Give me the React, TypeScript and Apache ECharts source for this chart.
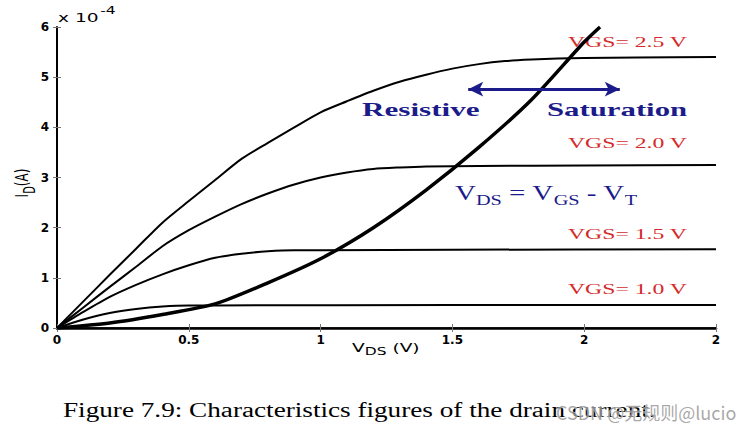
import React, { useEffect, useRef } from 'react';
import * as echarts from 'echarts';

// Drain current curves, I_D in units of 1e-4 A, V_DS in volts
const vgs25: number[][] = [[0,0],[0.1,0.53],[0.2,1.06],[0.3,1.58],[0.4,2.1],[0.5,2.53],[0.6,2.95],[0.7,3.37],[0.8,3.69],[0.9,4.0],[1.0,4.3],[1.1,4.52],[1.2,4.73],[1.3,4.91],[1.4,5.05],[1.5,5.17],[1.6,5.26],[1.7,5.32],[1.8,5.35],[1.9,5.37],[2.0,5.38],[2.2,5.39],[2.5,5.4]];
const vgs20: number[][] = [[0,0],[0.1,0.41],[0.2,0.82],[0.3,1.22],[0.4,1.63],[0.5,1.95],[0.6,2.22],[0.7,2.47],[0.8,2.68],[0.9,2.86],[1.0,3.0],[1.1,3.1],[1.2,3.17],[1.3,3.2],[1.4,3.22],[1.6,3.23],[2.0,3.24],[2.5,3.25]];
const vgs15: number[][] = [[0,0],[0.1,0.32],[0.2,0.62],[0.3,0.86],[0.4,1.07],[0.5,1.25],[0.6,1.4],[0.7,1.48],[0.8,1.53],[0.9,1.55],[1.0,1.55],[1.5,1.56],[2.5,1.57]];
const vgs10: number[][] = [[0,0],[0.1,0.17],[0.2,0.3],[0.3,0.38],[0.4,0.43],[0.5,0.45],[0.6,0.45],[1.5,0.46],[2.5,0.46]];
const boundary: number[][] = [[0,0],[0.2,0.1],[0.4,0.27],[0.6,0.48],[0.8,0.9],[1.0,1.38],[1.2,2.0],[1.4,2.75],[1.6,3.6],[1.8,4.55],[2.0,5.7],[2.06,6.0]];
const arrowLeft = [1.56, 4.76];
const arrowRight = [2.135, 4.76];
const vgsLabels = ['VGS= 2.5 V', 'VGS= 2.0 V', 'VGS= 1.5 V', 'VGS= 1.0 V'];
const xMin = 0, xMax = 2.5, xStep = 0.5;
const yMin = 0, yMax = 6, yStep = 1;

const RED = '#d42a2a';
const NAVY = '#1b1b8a';
const SANS = 'DejaVu Sans';
const SERIF = 'Liberation Serif';

export default function App() {
  const ref = useRef<HTMLDivElement>(null);
  useEffect(() => {
    const chart = echarts.init(ref.current!, null, { renderer: 'svg' });
    const curve = (data: number[][], width: number) => ({
      type: 'line', data, smooth: 0.25, symbol: 'none', silent: true,
      lineStyle: { color: '#000', width },
    });
    const vgsY = [42, 143, 234, 289];
    chart.setOption({
      animation: false,
      backgroundColor: '#fff',
      grid: { left: 57, right: 40, top: 27, bottom: 103, containLabel: false },
      xAxis: [
        {
          type: 'value', min: xMin, max: xMax, interval: xStep, position: 'bottom',
          axisLine: { show: true, lineStyle: { color: '#000', width: 2.5 } },
          axisTick: { show: true, inside: true, length: 4, lineStyle: { color: '#777', width: 1 } },
          axisLabel: { color: '#000', fontFamily: SANS, fontSize: 12, fontWeight: 'bold', margin: 6,
            formatter: (v: number) => (v === 2.5 ? '2' : String(v)) },
          splitLine: { show: false },
        },
        {
          type: 'value', min: xMin, max: xMax, interval: xStep, position: 'top',
          axisLine: { show: true, lineStyle: { color: '#000', width: 1.5 } },
          axisTick: { show: true, inside: true, length: 4, lineStyle: { color: '#777', width: 1 } },
          axisLabel: { show: false }, splitLine: { show: false },
        },
      ],
      yAxis: [
        {
          type: 'value', min: yMin, max: yMax, interval: yStep, position: 'left',
          axisLine: { show: true, lineStyle: { color: '#000', width: 2 } },
          axisTick: { show: true, inside: true, length: 4, lineStyle: { color: '#777', width: 1 } },
          axisLabel: { color: '#000', fontFamily: SANS, fontSize: 12, fontWeight: 'bold', margin: 8 },
          splitLine: { show: false },
        },
        {
          type: 'value', min: yMin, max: yMax, interval: yStep, position: 'right',
          axisLine: { show: false },
          axisTick: { show: true, inside: true, length: 4, lineStyle: { color: '#777', width: 1 } },
          axisLabel: { show: false }, splitLine: { show: false },
        },
      ],
      series: [
        curve(vgs25, 2),
        curve(vgs20, 2),
        curve(vgs15, 2),
        curve(vgs10, 2),
        {
          ...curve(boundary, 3.5),
          markLine: {
            silent: true, symbol: ['arrow', 'arrow'], symbolSize: [11, 15],
            lineStyle: { color: NAVY, width: 3, type: 'solid' },
            label: { show: false },
            data: [[{ coord: arrowLeft }, { coord: arrowRight }]],
          },
        },
      ],
      graphic: [
        // exponent
        {
          type: 'text', x: 58, y: 17.5, scaleX: 1.55,
          style: {
            text: '{m|x 10}{s|-4}', verticalAlign: 'middle',
            rich: {
              m: { fontFamily: SANS, fontSize: 12, fill: '#000' },
              s: { fontFamily: SANS, fontSize: 10, fill: '#000', padding: [0, 0, 14, 1] },
            },
          },
        },
        // y axis name
        {
          type: 'text', x: 22, y: 183, rotation: Math.PI / 2, scaleY: 1.5,
          style: {
            text: '{m|I}{s|D}{m|(A)}', align: 'center', verticalAlign: 'middle',
            rich: {
              m: { fontFamily: SANS, fontSize: 12, fill: '#000' },
              s: { fontFamily: SANS, fontSize: 10, fill: '#000', padding: [10, 0, 0, 0] },
            },
          },
        },
        // x axis name
        {
          type: 'text', x: 352, y: 348, scaleX: 1.55,
          style: {
            text: '{m|V}{s|DS}{m| (V)}', verticalAlign: 'middle',
            rich: {
              m: { fontFamily: SANS, fontSize: 12, fill: '#000' },
              s: { fontFamily: SANS, fontSize: 10, fill: '#000', padding: [8, 0, 0, 0] },
            },
          },
        },
        ...vgsLabels.map((t, i) => ({
          type: 'text', x: 568, y: vgsY[i], scaleX: 1.58,
          style: { text: t, fill: RED, fontFamily: SERIF, fontSize: 15, verticalAlign: 'middle' },
        })),
        {
          type: 'text', x: 362, y: 110, scaleX: 1.64,
          style: { text: 'Resistive', fill: NAVY, fontFamily: SERIF, fontSize: 19, fontWeight: 'bold', verticalAlign: 'middle' },
        },
        {
          type: 'text', x: 547, y: 110, scaleX: 1.62,
          style: { text: 'Saturation', fill: NAVY, fontFamily: SERIF, fontSize: 19, fontWeight: 'bold', verticalAlign: 'middle' },
        },
        {
          type: 'text', x: 455, y: 193, scaleX: 1.45,
          style: {
            text: '{m|V}{s|DS}{m| = V}{s|GS}{m| - V}{s|T}', verticalAlign: 'middle',
            rich: {
              m: { fontFamily: SERIF, fontSize: 20, fill: NAVY },
              s: { fontFamily: SERIF, fontSize: 14, fill: NAVY, padding: [14, 0, 0, 0] },
            },
          },
        },
        {
          type: 'text', x: 63, y: 410, scaleX: 1.36,
          style: { text: 'Figure 7.9: Characteristics figures of the drain current.', fill: '#000', fontFamily: SERIF, fontSize: 20, verticalAlign: 'middle' },
        },
        {
          type: 'text', x: 556, y: 412,
          style: { text: 'CSDN @无规则@lucio', fill: 'rgba(140,140,140,0.75)', fontFamily: 'Noto Sans CJK SC', fontSize: 18, verticalAlign: 'middle', stroke: 'rgba(255,255,255,0.6)', lineWidth: 1 },
        },
      ],
    });
    return () => chart.dispose();
  }, []);
  return <div ref={ref} style={{ position: 'fixed', left: 0, top: 0, width: 756, height: 431, background: '#fff' }} />;
}
